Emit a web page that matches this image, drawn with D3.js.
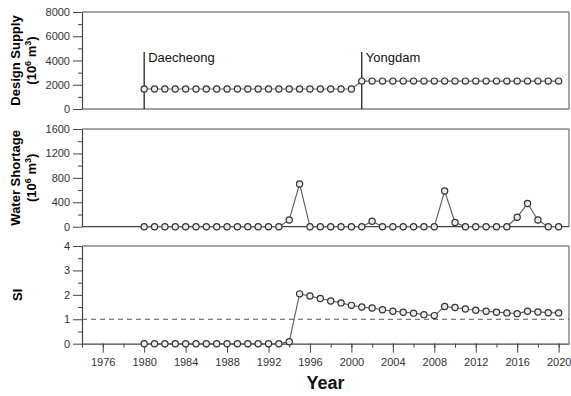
<html>
<head>
<script src="https://d3js.org/d3.v7.min.js"></script>
<style>
  body { margin: 0; background: #fff; }
  svg text { font-family: "Liberation Sans", Arial, sans-serif; }
</style>
</head>
<body>
<svg id="chart" width="571" height="396"></svg>
<script>
// data
const years = d3.range(1980, 2021);
const supply = [1650,1650,1650,1650,1650,1650,1650,1650,1650,1650,
                1650,1650,1650,1650,1650,1650,1650,1650,1650,1650,1650,
                2300,2300,2300,2300,2300,2300,2300,2300,2300,2300,
                2300,2300,2300,2300,2300,2300,2300,2300,2300,2300];
const shortage = [0,0,0,0,0,0,0,0,0,0,0,0,0,0,110,700,
                  0,0,0,0,0,0,90,0,0,0,0,0,0,585,70,
                  0,0,0,0,0,155,380,110,0,0];
const si = [0,0,0,0,0,0,0,0,0,0,0,0,0,0,0.08,2.04,
            1.95,1.85,1.75,1.67,1.57,1.50,1.46,1.39,1.33,1.29,1.25,1.19,1.15,
            1.52,1.48,1.42,1.37,1.33,1.29,1.26,1.23,1.33,1.30,1.27,1.26];
const dams = [{name: "Daecheong", year: 1980}, {name: "Yongdam", year: 2001}];
const xTicks = d3.range(1976, 2021, 4);
const xMinor = d3.range(1974, 2021, 2);

const svg = d3.select("#chart");
const left = 82, right = 569;
const x = d3.scaleLinear().domain([1974, 2021]).range([left, right]);

const panels = [
  {top: 12, bottom: 109, max: 8000, step: 2000, values: supply, label: ["Design Supply", "(10", "6", " m", "3", ")"]},
  {top: 129, bottom: 226.7, max: 1600, step: 400, values: shortage, label: ["Water Shortage", "(10", "6", " m", "3", ")"]},
  {top: 246, bottom: 343.7, max: 4, step: 1, values: si, label: ["SI"]}
];

panels.forEach(function(p, k) {
  const y = d3.scaleLinear().domain([0, p.max]).range([p.bottom, p.top]);
  const g = svg.append("g");

  // frame: top and right in gray
  g.append("line").attr("x1", left).attr("x2", right).attr("y1", p.top).attr("y2", p.top)
    .attr("stroke", "#8a8a8a").attr("stroke-width", 1.5);
  g.append("line").attr("x1", right).attr("x2", right).attr("y1", p.top).attr("y2", p.bottom)
    .attr("stroke", "#8a8a8a").attr("stroke-width", 1.5);

  // y axis major + minor
  const yMinor = d3.range(0, p.max + p.step / 4, p.step / 2).filter((v, i) => i % 2 === 1);
  g.append("g").attr("transform", "translate(" + left + ",0)")
    .call(d3.axisLeft(y).tickValues(yMinor).tickSize(4).tickFormat(""))
    .call(a => a.select(".domain").remove())
    .selectAll("line").attr("stroke", "#444");
  const ya = g.append("g").attr("transform", "translate(" + left + ",0)")
    .call(d3.axisLeft(y).tickValues(d3.range(0, p.max + 1e-9, p.step)).tickSize(9)
      .tickSizeOuter(0).tickPadding(3).tickFormat(d3.format("d")));
  ya.select(".domain").attr("stroke", "#444").attr("stroke-width", 1.2);
  ya.selectAll("line").attr("stroke", "#444");
  ya.selectAll("text").attr("fill", "#333").style("font-size", "11px");

  // x axis
  if (k === 2) {
    g.append("g").attr("transform", "translate(0," + p.bottom + ")")
      .call(d3.axisBottom(x).tickValues(xMinor).tickSize(4).tickFormat(""))
      .call(a => a.select(".domain").remove())
      .selectAll("line").attr("stroke", "#444");
    const xa = g.append("g").attr("transform", "translate(0," + p.bottom + ")")
      .call(d3.axisBottom(x).tickValues(xTicks).tickSize(9).tickSizeOuter(0).tickPadding(6).tickFormat(d3.format("d")));
    xa.select(".domain").attr("stroke", "#444").attr("stroke-width", 1.2);
    xa.selectAll("line").attr("stroke", "#444");
    xa.selectAll("text").attr("fill", "#333").style("font-size", "11px");
  } else {
    g.append("line").attr("x1", left).attr("x2", right).attr("y1", p.bottom).attr("y2", p.bottom)
      .attr("stroke", "#444").attr("stroke-width", 1.2);
  }

  // reference line SI = 1
  if (k === 2) {
    g.append("line").attr("x1", left).attr("x2", right).attr("y1", y(1)).attr("y2", y(1))
      .attr("stroke", "#555").attr("stroke-dasharray", "5,4");
  }

  // dam markers
  if (k === 0) {
    dams.forEach(function(d) {
      g.append("line").attr("x1", x(d.year)).attr("x2", x(d.year))
        .attr("y1", y(4700)).attr("y2", p.bottom).attr("stroke", "#111").attr("stroke-width", 1.2);
      g.append("text").attr("x", x(d.year) + 4).attr("y", y(3900))
        .text(d.name).style("font-size", "13px").attr("fill", "#111");
    });
  }

  // series line + markers
  g.append("path").datum(years)
    .attr("fill", "none").attr("stroke", "#666").attr("stroke-width", 1.2)
    .attr("d", d3.line().x(d => x(d)).y((d, i) => y(p.values[i])));
  g.selectAll("circle").data(years).enter().append("circle")
    .attr("cx", d => x(d)).attr("cy", (d, i) => y(p.values[i])).attr("r", 3.1)
    .attr("fill", "#ebebeb").attr("stroke", "#333").attr("stroke-width", 1.2);

  // y label
  const cy = (p.top + p.bottom) / 2;
  if (p.label.length === 1) {
    svg.append("text").attr("transform", "translate(22," + cy + ") rotate(-90)")
      .attr("text-anchor", "middle").style("font-size", "13px").style("font-weight", "bold")
      .text(p.label[0]);
  } else {
    svg.append("text").attr("transform", "translate(20," + cy + ") rotate(-90)")
      .attr("text-anchor", "middle").style("font-size", "13px").style("font-weight", "bold")
      .text(p.label[0]);
    const t = svg.append("text").attr("transform", "translate(36," + cy + ") rotate(-90)")
      .attr("text-anchor", "middle").style("font-size", "13px").style("font-weight", "bold");
    t.append("tspan").text(p.label[1]);
    t.append("tspan").text(p.label[2]).attr("dy", -5).style("font-size", "9px");
    t.append("tspan").text(p.label[3]).attr("dy", 5);
    t.append("tspan").text(p.label[4]).attr("dy", -5).style("font-size", "9px");
    t.append("tspan").text(p.label[5]).attr("dy", 5);
  }
});

svg.append("text").attr("x", (left + right) / 2).attr("y", 389)
  .attr("text-anchor", "middle").style("font-size", "18px").style("font-weight", "bold")
  .attr("fill", "#111").text("Year");
</script>
</body>
</html>
